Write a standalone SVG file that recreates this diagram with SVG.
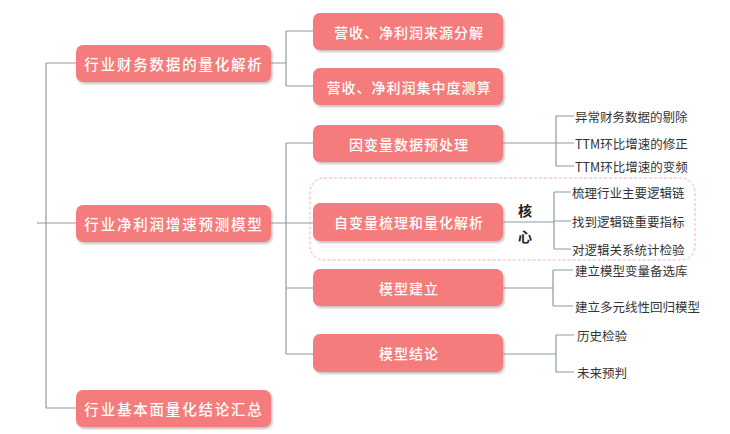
<svg xmlns="http://www.w3.org/2000/svg" width="730" height="434" viewBox="0 0 730 434">
<defs>
<filter id="sh" x="-10%" y="-20%" width="130%" height="160%">
<feDropShadow dx="1.5" dy="2" stdDeviation="1.2" flood-color="#7a7a7a" flood-opacity="0.45"/>
</filter>
<style>
.box{fill:#F47B7B;filter:url(#sh);}
.t1{fill:#fff;font-family:"Noto Sans CJK SC",sans-serif;font-size:14.5px;font-weight:500;letter-spacing:1.8px;text-anchor:middle;dominant-baseline:central;}
.t2{fill:#fff;font-family:"Noto Sans CJK SC",sans-serif;font-size:14px;font-weight:500;letter-spacing:1px;text-anchor:middle;dominant-baseline:central;}
.leaf{fill:#333;font-family:"Noto Sans CJK SC",sans-serif;font-size:12.5px;dominant-baseline:central;}
.core{fill:#222;font-family:"Noto Sans CJK SC",sans-serif;font-size:14px;font-weight:bold;text-anchor:middle;dominant-baseline:central;}
.ln{fill:none;stroke:#8e9ba6;stroke-width:1.2;}
</style>
</defs>
<rect width="730" height="434" fill="#fff"/>
<g id="core-frame">
<rect x="310" y="178" width="385" height="82" rx="14" fill="none" stroke="#f0b4b8" stroke-width="1" stroke-dasharray="3 2"/>
</g>
<g id="connectors" class="ln">
<path d="M37,223H76M46,63V408M46,63H76M46,408H76"/>
<path d="M271,63H286M286,31V86M286,31H313M286,86H313"/>
<path d="M271,223H313M286,143V354M286,143H313M286,288H313M286,354H313"/>
<path d="M503,143H556M556,116V166M556,116H574M556,143H574M556,166H574"/>
<path d="M503,222H554M554,192V249M554,192H571M554,221H571M554,249H571"/>
<path d="M503,288H553M553,270V306M553,270H573M553,306H573"/>
<path d="M503,354H556M556,335V372M556,335H574M556,372H574"/>
</g>
<g id="n1"><rect class="box" x="76" y="45" width="195" height="37" rx="7"/><text class="t1" x="174" y="63.5">行业财务数据的量化解析</text></g>
<g id="n2"><rect class="box" x="76" y="205" width="195" height="37" rx="7"/><text class="t1" x="174" y="223.5">行业净利润增速预测模型</text></g>
<g id="n3"><rect class="box" x="76" y="390" width="195" height="37" rx="7"/><text class="t1" x="174" y="408.5">行业基本面量化结论汇总</text></g>
<g id="a"><rect class="box" x="313" y="13" width="190" height="37" rx="7"/><text class="t2" x="409" y="31.5">营收、净利润来源分解</text></g>
<g id="b"><rect class="box" x="313" y="68" width="190" height="37" rx="7"/><text class="t2" x="409" y="86.5">营收、净利润集中度测算</text></g>
<g id="c"><rect class="box" x="313" y="125" width="190" height="37" rx="7"/><text class="t2" x="409" y="143.5">因变量数据预处理</text></g>
<g id="d"><rect class="box" x="313" y="203" width="190" height="38" rx="7"/><text class="t2" x="409" y="222">自变量梳理和量化解析</text></g>
<g id="e"><rect class="box" x="313" y="269" width="190" height="37" rx="7"/><text class="t2" x="409" y="287.5">模型建立</text></g>
<g id="f"><rect class="box" x="313" y="334" width="190" height="38" rx="7"/><text class="t2" x="409" y="353">模型结论</text></g>
<g id="core-label"><text class="core" x="525" y="210">核</text><text class="core" x="525" y="236">心</text></g>
<g id="leaves">
<text class="leaf" x="575" y="116">异常财务数据的剔除</text>
<text class="leaf" x="575" y="143">TTM环比增速的修正</text>
<text class="leaf" x="575" y="166">TTM环比增速的变频</text>
<text class="leaf" x="572" y="192">梳理行业主要逻辑链</text>
<text class="leaf" x="572" y="221">找到逻辑链重要指标</text>
<text class="leaf" x="572" y="249">对逻辑关系统计检验</text>
<text class="leaf" x="575" y="270">建立模型变量备选库</text>
<text class="leaf" x="575" y="306">建立多元线性回归模型</text>
<text class="leaf" x="577" y="335">历史检验</text>
<text class="leaf" x="577" y="372">未来预判</text>
</g>
</svg>
